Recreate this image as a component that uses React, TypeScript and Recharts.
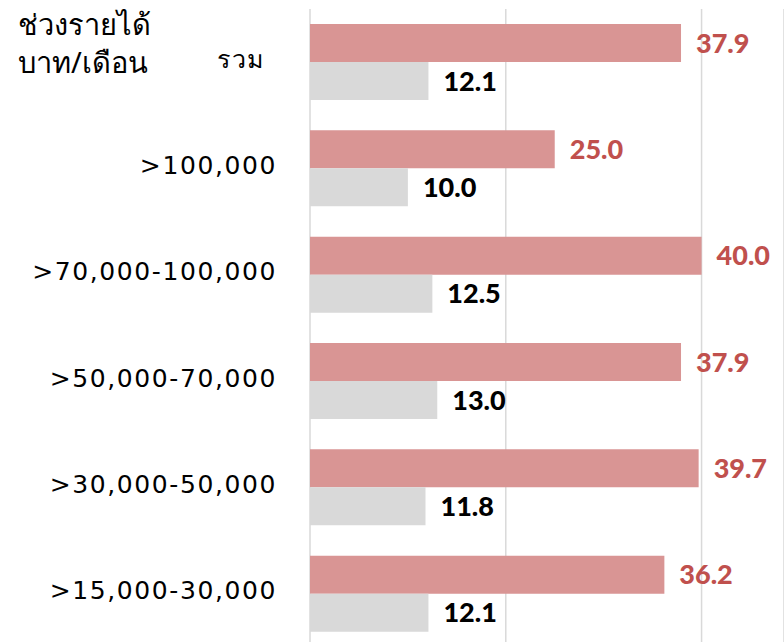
import React from "react";
import { BarChart, Bar, XAxis, YAxis, CartesianGrid, LabelList } from "recharts";

const categories = ["รวม", ">100,000", ">70,000-100,000", ">50,000-70,000", ">30,000-50,000", ">15,000-30,000"];
const pinkValues = [37.9, 25.0, 40.0, 37.9, 39.7, 36.2];
const grayValues = [12.1, 10.0, 12.5, 13.0, 11.8, 12.1];
const xTicks = [0, 20, 40];
const titleLines = ["ช่วงรายได้", "บาท/เดือน"];

const data = categories.map((c, i) => ({ name: c, pink: pinkValues[i], gray: grayValues[i] }));

const CatTick = (props: any) => {
  const { x, y, payload, index } = props;
  const shift = index === 0 ? -12 : 0;
  return (
    <text
      x={x + shift}
      y={y - 3}
      textAnchor="end"
      dominantBaseline="central"
      fontFamily="'DejaVu Sans', 'Noto Sans', sans-serif"
      fontSize={25}
      letterSpacing={1.6}
      fill="#000"
    >
      {payload.value}
    </text>
  );
};

const fmt = (v: any) => Number(v).toFixed(1);

export default function App() {
  return (
    <div style={{ position: "fixed", left: 0, top: 0, width: 784, height: 642, overflow: "hidden", background: "#fff" }}>
      <BarChart
        width={784}
        height={650}
        data={data}
        layout="vertical"
        margin={{ top: 9, right: 0, bottom: 3, left: 0 }}
        barGap={0}
      >
        <CartesianGrid horizontal={false} vertical={true} stroke="#D9D9D9" strokeWidth={1.5} />
        <XAxis type="number" domain={[0, 48.42]} ticks={xTicks} hide allowDataOverflow />
        <YAxis
          type="category"
          dataKey="name"
          width={310}
          axisLine={false}
          tickLine={false}
          tick={<CatTick />}
          tickMargin={27}
          interval={0}
        />
        <Bar dataKey="pink" fill="#D99594" barSize={38} isAnimationActive={false}>
          <LabelList
            dataKey="pink"
            position="right"
            offset={15}
            formatter={fmt}
            fill="#C0504D"
            fontSize={27}
            fontWeight={900}
            fontFamily="Lato, sans-serif"
          />
        </Bar>
        <Bar dataKey="gray" fill="#D9D9D9" barSize={38} isAnimationActive={false}>
          <LabelList
            dataKey="gray"
            position="right"
            offset={15}
            formatter={fmt}
            fill="#000"
            fontSize={27}
            fontWeight={900}
            fontFamily="Lato, sans-serif"
          />
        </Bar>
      </BarChart>
      <div
        style={{
          position: "absolute",
          left: 18,
          top: 5,
          fontFamily: "'Noto Sans', 'DejaVu Sans', sans-serif",
          fontSize: 29,
          lineHeight: "38px",
          color: "#000",
        }}
      >
        {titleLines.map((t) => (
          <div key={t}>{t}</div>
        ))}
      </div>
    </div>
  );
}
